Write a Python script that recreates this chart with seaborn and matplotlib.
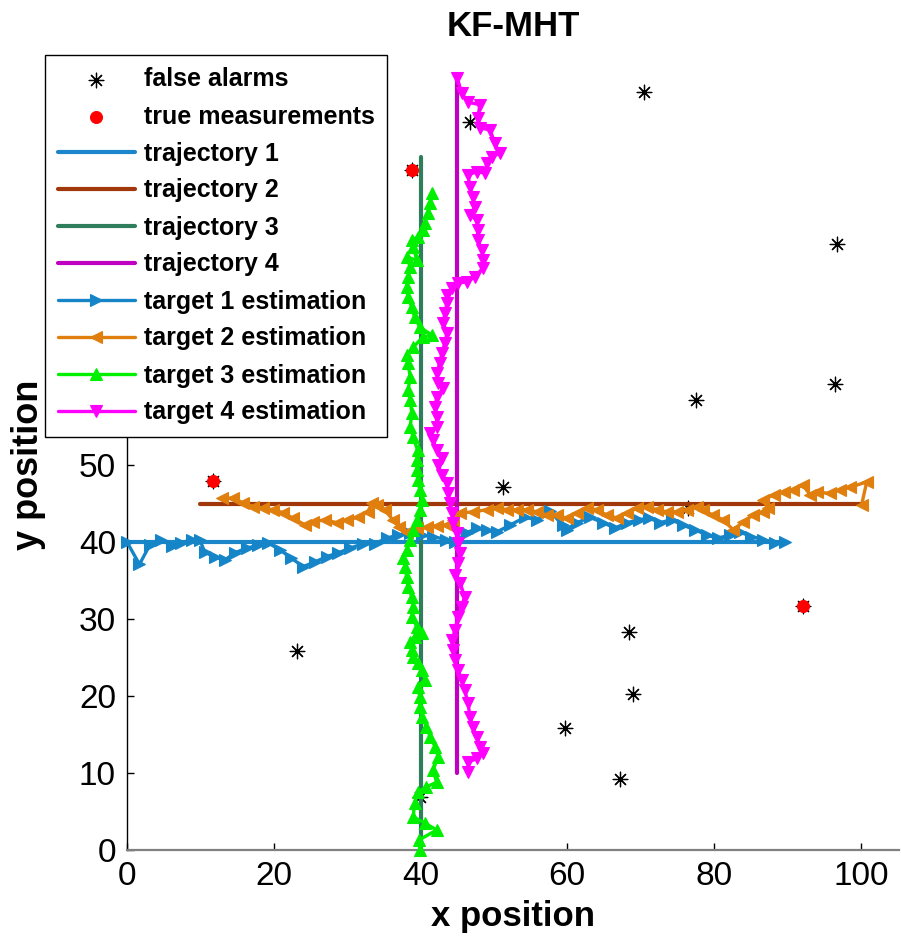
import matplotlib
matplotlib.use("Agg")
import matplotlib.pyplot as plt
import seaborn as sns

# ---------------- data ----------------
fa_x = [46.7, 70.4, 96.7, 96.5, 77.5, 51.2, 76.4, 23.2, 68.4, 69.0, 59.7, 67.2, 39.9, 11.7, 38.8, 92.1]
fa_y = [94.5, 98.5, 78.7, 60.5, 58.4, 47.1, 44.4, 25.8, 28.3, 20.3, 15.8, 9.2, 6.9, 47.9, 88.3, 31.7]

tm_x = [11.7, 38.8, 92.1]
tm_y = [47.9, 88.3, 31.7]

traj1_x = [0, 90]
traj1_y = [40, 40]
traj2_x = [10, 100]
traj2_y = [45, 45]
traj3_x = [40, 40]
traj3_y = [0, 90]
traj4_x = [45, 45]
traj4_y = [100, 10]

est1_x = [0.0, 1.7, 3.1, 4.7, 6.1, 7.4, 8.8, 9.9, 10.6, 12.0, 13.4, 14.7, 16.3, 17.9, 19.2,
          20.8, 22.4, 24.0, 25.6, 27.2, 28.8, 30.4, 32.2, 33.8, 35.4, 36.9, 38.5, 40.2, 41.7,
          43.5, 44.7, 46.3, 47.7, 49.0, 50.4, 52.2, 54.2, 55.9, 57.6, 59.4, 59.9, 61.3, 63.1,
          64.9, 66.5, 68.1, 69.8, 71.2, 72.6, 74.2, 75.7, 77.4, 79.0, 80.5, 82.2, 83.5, 85.1,
          86.7, 88.3, 89.6]
est1_y = [40.0, 37.1, 39.6, 40.3, 39.5, 39.9, 40.3, 40.3, 38.7, 38.0, 37.7, 38.6, 39.2, 39.6, 39.9,
          39.0, 37.9, 36.8, 37.4, 38.1, 38.6, 39.2, 39.8, 39.8, 40.5, 40.9, 41.2, 40.9, 40.7,
          40.3, 40.0, 41.2, 41.8, 41.5, 41.3, 42.2, 43.2, 42.9, 44.0, 42.2, 41.6, 42.5, 43.2,
          42.5, 41.8, 42.5, 42.9, 43.1, 42.5, 42.9, 42.2, 41.6, 40.9, 40.5, 40.9, 41.3, 40.7,
          40.3, 39.9, 40.0]

est2_x = [100.1, 100.8, 98.5, 97.1, 95.8, 94.0, 93.1, 92.1, 90.8, 89.5, 88.1, 86.7, 87.3, 86.7,
          85.3, 84.0, 82.6, 81.2, 79.8, 78.5, 77.7, 76.3, 74.9, 73.6, 72.2, 70.8, 69.5, 68.1,
          66.8, 65.4, 64.0, 62.7, 61.3, 59.9, 58.6, 57.2, 55.9, 54.5, 53.1, 51.8, 50.4, 49.0,
          47.2, 45.4, 44.4, 43.6, 42.2, 40.9, 39.5, 38.1, 37.0, 36.2, 35.1, 34.1, 33.4, 32.8,
          31.5, 30.0, 28.6, 27.0, 25.4, 24.3, 22.6, 21.3, 19.9, 18.5, 17.2, 15.8, 14.4, 12.9]
est2_y = [44.8, 47.8, 47.1, 46.8, 46.3, 46.5, 46.1, 47.4, 46.8, 46.5, 46.1, 45.5, 44.4, 43.9,
          43.5, 42.6, 41.6, 42.9, 43.5, 44.2, 44.6, 44.2, 43.9, 43.9, 44.2, 44.6, 44.4, 43.8,
          43.1, 43.5, 44.2, 44.4, 43.8, 43.1, 43.5, 43.5, 43.9, 44.2, 44.2, 44.2, 44.4, 44.2,
          43.9, 43.8, 42.9, 42.2, 42.1, 41.9, 41.8, 41.3, 42.0, 42.9, 44.2, 44.8, 45.1, 43.9,
          43.2, 42.9, 42.5, 42.9, 42.6, 42.2, 43.1, 43.8, 44.2, 44.4, 44.6, 45.1, 45.7, 45.7]

est3_x = [39.9, 39.8, 42.2, 40.6, 39.0, 39.2, 39.6, 40.8, 42.2, 41.7, 42.4, 42.0, 41.3, 40.8,
          40.2, 39.9, 39.9, 39.6, 40.6, 40.2, 39.6, 39.0, 38.8, 38.6, 39.2, 40.2, 39.5, 38.8,
          39.0, 38.8, 38.3, 38.1, 37.9, 37.6, 38.1, 38.6, 39.0, 39.5, 39.9, 40.2, 39.9, 39.6,
          39.5, 39.5, 39.6, 39.0, 38.6, 38.8, 38.6, 38.3, 38.6, 38.3, 38.1, 39.0, 40.3, 41.5,
          39.9, 39.2, 38.8, 38.3, 38.1, 38.3, 38.6, 38.1, 39.5, 39.0, 38.8, 39.6, 40.3, 40.6,
          41.0, 41.3, 41.6]
est3_y = [0.0, 1.3, 2.6, 3.5, 4.3, 6.1, 7.5, 8.2, 8.8, 10.4, 12.1, 13.4, 14.7, 16.0,
          17.3, 18.6, 19.9, 21.2, 22.1, 23.4, 24.3, 25.1, 26.0, 27.0, 27.7, 28.2, 29.0, 30.3,
          31.6, 32.9, 34.2, 35.5, 36.8, 37.9, 39.0, 40.3, 41.6, 42.9, 44.2, 45.5, 46.8, 48.1,
          49.4, 50.6, 51.9, 53.6, 54.9, 56.8, 58.4, 59.7, 61.4, 63.2, 64.3, 65.3, 66.6, 66.9,
          67.9, 69.2, 70.5, 71.8, 73.1, 74.4, 75.7, 77.0, 76.6, 78.3, 79.2, 79.6, 80.5, 81.4,
          82.7, 84.0, 85.3]

est4_x = [45.0, 45.6, 46.5, 48.1, 47.8, 48.1, 49.5, 50.1, 50.8, 49.7, 49.0, 48.8, 47.7, 46.5,
          46.7, 47.1, 47.4, 46.7, 47.7, 47.8, 47.8, 48.4, 48.5, 48.5, 47.4, 46.3, 45.1, 44.3,
          43.6, 43.6, 43.3, 43.1, 43.6, 43.3, 42.9, 42.6, 42.2, 42.4, 43.1, 42.2, 42.0, 42.2,
          42.2, 41.3, 41.7, 42.2, 42.9, 42.4, 42.9, 43.6, 43.7, 44.0, 44.3, 44.4, 45.0, 45.1,
          45.4, 45.1, 44.7, 45.4, 46.0, 45.6, 45.1, 44.7, 44.3, 44.4, 44.7, 45.1, 45.6, 46.0,
          46.5, 46.7, 47.1, 47.7, 48.1, 48.5, 47.7, 46.5, 46.5]
est4_y = [100.3, 98.3, 97.1, 96.8, 95.1, 93.8, 93.5, 91.8, 90.5, 90.0, 89.2, 87.9, 88.1, 87.7,
          86.1, 84.8, 83.5, 82.5, 81.8, 80.5, 79.2, 77.9, 76.6, 75.6, 74.4, 73.8, 73.6, 73.0,
          72.1, 71.0, 69.7, 68.4, 67.1, 65.8, 64.5, 63.2, 61.9, 60.6, 60.0, 58.8, 57.5, 56.2,
          54.9, 54.2, 53.2, 51.9, 50.9, 50.0, 48.7, 47.7, 46.4, 45.1, 43.8, 42.5, 41.2, 39.9,
          38.6, 37.3, 35.7, 34.7, 32.9, 31.6, 30.3, 28.6, 27.3, 26.0, 24.7, 23.4, 22.1, 20.8,
          19.1, 17.3, 16.0, 14.7, 13.4, 12.6, 11.9, 11.4, 10.1]

labels = ["false alarms", "true measurements", "trajectory 1", "trajectory 2",
          "trajectory 3", "trajectory 4", "target 1 estimation", "target 2 estimation",
          "target 3 estimation", "target 4 estimation"]
x_ticks = [0, 20, 40, 60, 80, 100]
y_ticks = [0, 10, 20, 30, 40, 50, 60, 70, 80, 90, 100]

# ---------------- style ----------------
sns.set_theme(style="white")
plt.rcParams["font.family"] = ["Liberation Sans", "DejaVu Sans"]
plt.rcParams["text.color"] = "black"
plt.rcParams["axes.labelcolor"] = "black"
plt.rcParams["xtick.color"] = "black"
plt.rcParams["ytick.color"] = "black"

fig = plt.figure(figsize=(9.01, 9.49), dpi=100)
ax = fig.add_axes([127 / 901, 1 - 850 / 949, (899 - 127) / 901, 770 / 949])

c_traj = ["#1B86C9", "#A1380B", "#2E7D5B", "#C000C0"]
c_est = ["#1585C8", "#E07F0E", "#00F000", "#FF00FF"]

sns.scatterplot(x=fa_x, y=fa_y, marker=(8, 2, 0), color="black", s=110,
                linewidth=0.9, ax=ax, label=labels[0], zorder=3)
sns.scatterplot(x=tm_x, y=tm_y, marker="o", color="#FF0000", edgecolor="#FF0000",
                s=75, ax=ax, label=labels[1], zorder=4)

for tx, ty, col, lab in zip([traj1_x, traj2_x, traj3_x, traj4_x],
                            [traj1_y, traj2_y, traj3_y, traj4_y], c_traj, labels[2:6]):
    sns.lineplot(x=tx, y=ty, estimator=None, sort=False, color=col, linewidth=3.0,
                 ax=ax, label=lab, zorder=5)

for ex, ey, col, mk, lab in zip([est1_x, est2_x, est3_x, est4_x],
                                [est1_y, est2_y, est3_y, est4_y], c_est,
                                [">", "<", "^", "v"], labels[6:]):
    sns.lineplot(x=ex, y=ey, estimator=None, sort=False, color=col, linewidth=2.4,
                 marker=mk, markersize=8.5, markeredgecolor=col, markerfacecolor=col,
                 markeredgewidth=0.8, ax=ax, label=lab, zorder=6)

for line in ax.lines:
    line.set_clip_on(False)

ax.set_xlim(0, 105.2)
ax.set_ylim(0, 100)
ax.set_xticks(x_ticks)
ax.set_yticks(y_ticks)
ax.tick_params(axis="both", direction="in", length=5, width=1, colors="black",
               labelsize=24, pad=8, bottom=True, left=True)
for s in ["top", "right"]:
    ax.spines[s].set_visible(False)
ax.spines["left"].set_color("black")
ax.spines["left"].set_linewidth(1.0)
ax.spines["bottom"].set_color("#808080")
ax.spines["bottom"].set_linewidth(1.6)

ax.set_xlabel("x position", fontsize=25, fontweight="bold", labelpad=6, color="black")
ax.set_ylabel("y position", fontsize=26, fontweight="bold", labelpad=10, color="black")
ax.set_title("KF-MHT", fontsize=25, fontweight="bold", pad=32, color="black")

handles, labs = ax.get_legend_handles_labels()
ax.get_legend().remove()
leg = fig.legend(handles, labs, loc="upper left",
                 bbox_to_anchor=(45 / 901, 1 - 55 / 949), bbox_transform=fig.transFigure,
                 prop={"weight": "bold", "size": 18}, frameon=True, fancybox=False,
                 framealpha=1, edgecolor="black", handlelength=3.1, handletextpad=0.35,
                 labelspacing=0.52, borderpad=0.5, borderaxespad=0, numpoints=1,
                 scatterpoints=1, labelcolor="black")
leg.get_frame().set_linewidth(1.0)

fig.savefig("out.png", dpi=100)
